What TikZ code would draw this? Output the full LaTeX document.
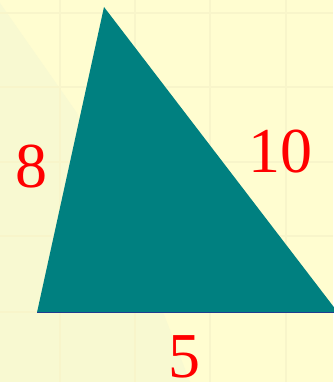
\documentclass[tikz,border=0pt]{standalone}
\usepackage{fontspec}
\setmainfont{Liberation Serif}
\definecolor{bgyellow}{HTML}{FFFDD0}
\definecolor{bggreen}{HTML}{F8F9D1}
\definecolor{gridc}{HTML}{F8F5CA}
\definecolor{tealc}{HTML}{008080}
\definecolor{basec}{HTML}{1F3C8F}
\tikzset{
  lbl/.style={text=red, font=\fontsize{64}{64}\selectfont, inner sep=0pt},
  gridline/.style={draw=gridc, line width=2.5pt}
}
\begin{document}
\begin{tikzpicture}[x=1pt,y=1pt]
\useasboundingbox (0,0) rectangle (333,382);
\fill[bgyellow] (0,0) rectangle (333,382);
\fill[bggreen] (0,379) -- (77,269) -- (165,65) -- (190,0) -- (0,0) -- cycle;
\foreach \x in {60,135,210,286} \draw[gridline] (\x,0) -- (\x,382);
\foreach \y in {369,295,220,146,70} \draw[gridline] (0,\y) -- (333,\y);
\coordinate (A) at (104,375);
\coordinate (B) at (37,69.5);
\coordinate (C) at (338,69.5);
\fill[tealc] (A) -- (B) -- (C) -- cycle;
\draw[basec, line width=1.5pt] (B) -- (C);
\node[lbl] (l8) at (32,215) {8};
\node[lbl] (l10) at (280,230) {10};
\node[lbl] (l5) at (184,25) {5};
\end{tikzpicture}
\end{document}
